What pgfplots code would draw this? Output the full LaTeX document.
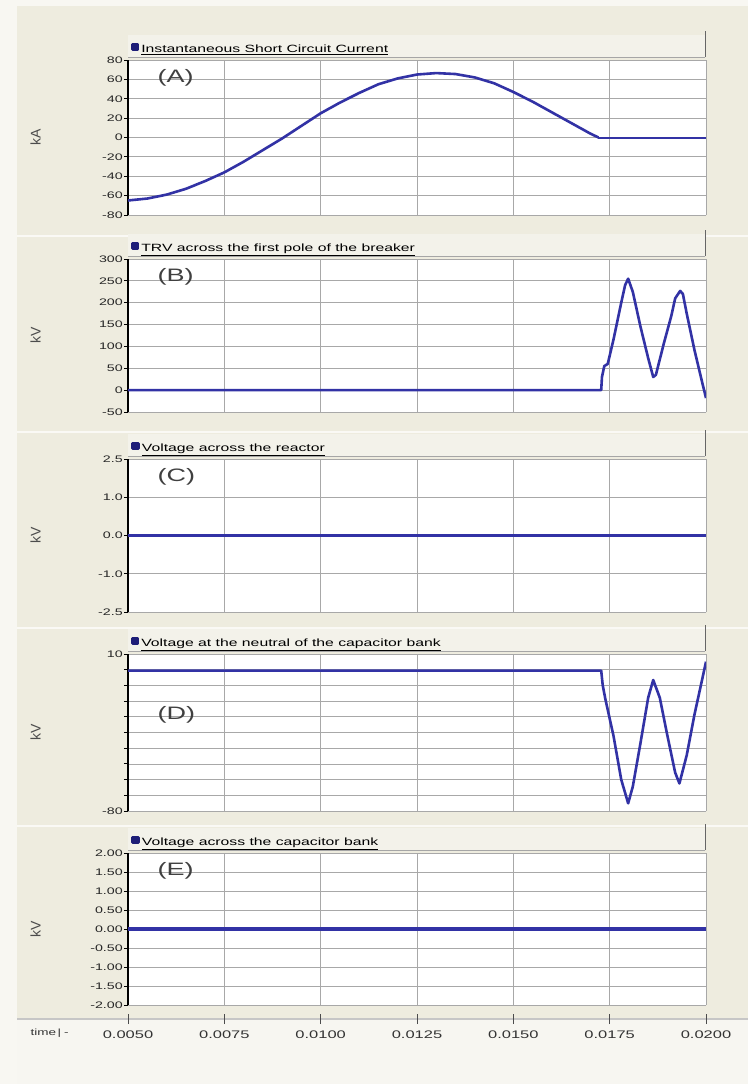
\documentclass[border=0pt]{standalone}
\usepackage{pgfplots}
\pgfplotsset{compat=1.18}
\usepackage{fontspec}
\setmainfont{Liberation Sans}
\newfontfamily\wf[FakeStretch=1.5]{Liberation Sans}
\definecolor{bg}{HTML}{EEECDF}
\definecolor{bar}{HTML}{F3F2EA}
\definecolor{wavec}{RGB}{50,50,165}
\definecolor{sq}{RGB}{30,30,120}
\definecolor{gridc}{HTML}{A8A8A8}
\tikzset{plab/.style={font=\wf\fontsize{18}{18}\selectfont, black!75, anchor=north west},
  wave/.style={wavec, line width=2.6pt, line join=round, mark=none}}
\pgfplotsset{
  panel/.style={
    scale only axis, width=578pt,
    xmin=0.005, xmax=0.02, scaled x ticks=false, scaled y ticks=false,
    xtick={0.005,0.0075,0.01,0.0125,0.015,0.0175,0.02},
    xticklabels={}, xtick style={draw=none},
    axis background/.style={fill=white},
    xmajorgrids, ymajorgrids,
    major grid style={gridc, line width=0.8pt},
    axis x line*=bottom, axis y line*=left,
    x axis line style={draw=gridc, line width=0.8pt, -},
    y axis line style={draw=black, line width=1.4pt, -},
    ytick style={black, line width=0.9pt},
    tick align=outside, major tick length=4pt,
    yticklabel style={font=\wf\fontsize{9.5}{9.5}\selectfont, inner sep=1pt, black!85},
    /pgf/number format/assume math mode=true,
    ylabel style={font=\fontsize{14}{14}\selectfont, at={(axis description cs:-0.16,0.5)}, anchor=center, black!70},
    legend style={at={(axis description cs:0,1)}, anchor=south west, draw=none, fill=none,
      font=\wf\fontsize{10.5}{11}\selectfont, inner sep=0pt, xshift=3pt, yshift=4pt},
    legend cell align=left,
    legend image code/.code={\fill[sq] (0pt,-0.5pt) rectangle (5.5pt,5pt);},
  },
}
\begin{document}
\begin{tikzpicture}
\useasboundingbox (0,0) rectangle (748pt,-1084pt);
\fill[white!60!bg] (0,0) rectangle (748pt,-1084pt);
\fill[bg] (17pt,-6pt) rectangle (748pt,-1084pt);
% panel separators
\foreach \yy in {236,432,628,826}{\draw[white!70!bg, line width=1.5pt] (17pt,-\yy pt) -- (748pt,-\yy pt);}
% title bars
\foreach \tp in {60,259,459,654,853}{
  \fill[bar] (128pt,-\tp pt+3pt) rectangle (705pt,-\tp pt+25pt);
  \draw[gray!70, line width=1pt] (128pt,-\tp pt+3pt) -- (705pt,-\tp pt+3pt);
  \draw[gray!80!black, line width=1pt] (705pt,-\tp pt+3pt) -- (705pt,-\tp pt+29pt);
}
% bottom strip
\fill[white!55!bg] (17pt,-1020pt) rectangle (748pt,-1084pt);
\draw[gray!45, line width=1.2pt] (17pt,-1019pt) -- (748pt,-1019pt);
\node[font=\wf\fontsize{9}{9}\selectfont, anchor=west, black!80] at (27pt,-1033pt) {time\,|\,\,-};

% (A)
\begin{axis}[panel, height=155pt, at={(128pt,-60pt)}, anchor=north west,
  ymin=-80, ymax=80, ytick={-80,-60,...,80}, ylabel={kA}]
\addplot[wave] coordinates {(0.0050,-65) (0.0055,-63) (0.0060,-59) (0.0065,-53) (0.0070,-45)
 (0.0075,-36) (0.0080,-25) (0.0085,-13) (0.0090,-1) (0.0095,12) (0.0100,25) (0.0105,36)
 (0.0110,46) (0.0115,55) (0.0120,61) (0.0125,65) (0.0130,66.5) (0.0135,65.5) (0.0140,62)
 (0.0145,56) (0.0150,47) (0.0155,37) (0.0160,26) (0.0165,15) (0.0170,4) (0.01721,0)};
\addlegendentry{\underline{Instantaneous Short Circuit Current}}
\addplot[forget plot, wave, line width=2pt] coordinates {(0.01721,0) (0.0200,0)};
\node[plab] at (axis description cs:0.045,0.96) {(A)};
\end{axis}

% (B)
\begin{axis}[panel, height=153pt, at={(128pt,-259pt)}, anchor=north west,
  ymin=-50, ymax=300, ytick={-50,0,...,300}, ylabel={kV}]
\addplot[wave] coordinates {(0.005,0) (0.01728,0) (0.01730,30) (0.01736,55) (0.01745,60)
 (0.0176,116) (0.0178,200) (0.0179,240) (0.01798,255) (0.0181,225) (0.0183,145)
 (0.0185,73) (0.01863,30) (0.0187,35) (0.0189,105) (0.0191,170) (0.0192,210)
 (0.01933,227) (0.0194,220) (0.0195,175) (0.0197,92) (0.0199,18) (0.0200,-18)};
\addlegendentry{\underline{TRV across the first pole of the breaker}}
\node[plab] at (axis description cs:0.045,0.96) {(B)};
\end{axis}

% (C)
\begin{axis}[panel, height=153pt, at={(128pt,-459pt)}, anchor=north west,
  ymin=-2.5, ymax=2.5, ytick={-2.5,-1.25,0,1.25,2.5},
  yticklabels={-2.5,-1.0,0.0,1.0,2.5}, ylabel={kV}]
\addplot[wave, line width=3.2pt] coordinates {(0.005,0) (0.020,0)};
\addlegendentry{\underline{Voltage across the reactor}}
\node[plab] at (axis description cs:0.045,0.96) {(C)};
\end{axis}

% (D)
\begin{axis}[panel, height=157pt, at={(128pt,-654pt)}, anchor=north west,
  ymin=-80, ymax=10, ytick={-80,-71,-62,-53,-44,-35,-26,-17,-8,1,10},
  yticklabels={-80,{},{},{},{},{},{},{},{},{},10}, ylabel={kV}]
\addplot[wave] coordinates {(0.005,0.5) (0.01728,0.5) (0.01732,-8) (0.01739,-16) (0.0176,-37)
 (0.0178,-62) (0.01798,-75.6) (0.0181,-66) (0.0183,-41) (0.0185,-15) (0.01863,-4.9)
 (0.0188,-15) (0.0190,-37) (0.0192,-58) (0.01931,-64.2) (0.0195,-48) (0.0197,-24.8)
 (0.0199,-4.6) (0.0200,5.6)};
\addlegendentry{\underline{Voltage at the neutral of the capacitor bank}}
\node[plab] at (axis description cs:0.045,0.69) {(D)};
\end{axis}

% (E)
\begin{axis}[panel, height=152pt, at={(128pt,-853pt)}, anchor=north west,
  ymin=-2, ymax=2, ytick={-2,-1.5,...,2},
  yticklabel={\pgfmathprintnumber[fixed,fixed zerofill,precision=2]{\tick}}, ylabel={kV}]
\addplot[wave, line width=3.2pt] coordinates {(0.005,0) (0.020,0)};
\addlegendentry{\underline{Voltage across the capacitor bank}}
\node[plab] at (axis description cs:0.045,0.96) {(E)};
\end{axis}

% time axis
\begin{axis}[scale only axis, width=578pt, height=10pt, at={(128pt,-1019pt)}, anchor=south west,
  xmin=0.005, xmax=0.02, ymin=0, ymax=1, scaled x ticks=false,
  axis x line=bottom, axis y line=none, x axis line style={draw=none},
  xtick={0.005,0.0075,0.01,0.0125,0.015,0.0175,0.02},
  xticklabels={0.0050,0.0075,0.0100,0.0125,0.0150,0.0175,0.0200},
  xtick style={draw=black!70, line width=0.8pt}, tick align=center, major tick length=10pt,
  xticklabel style={font=\wf\fontsize{11}{11}\selectfont, black!80, yshift=-3pt}]
\addplot[draw=none, no marks] coordinates {(0.005,0) (0.02,0)};
\end{axis}
\end{tikzpicture}
\end{document}
